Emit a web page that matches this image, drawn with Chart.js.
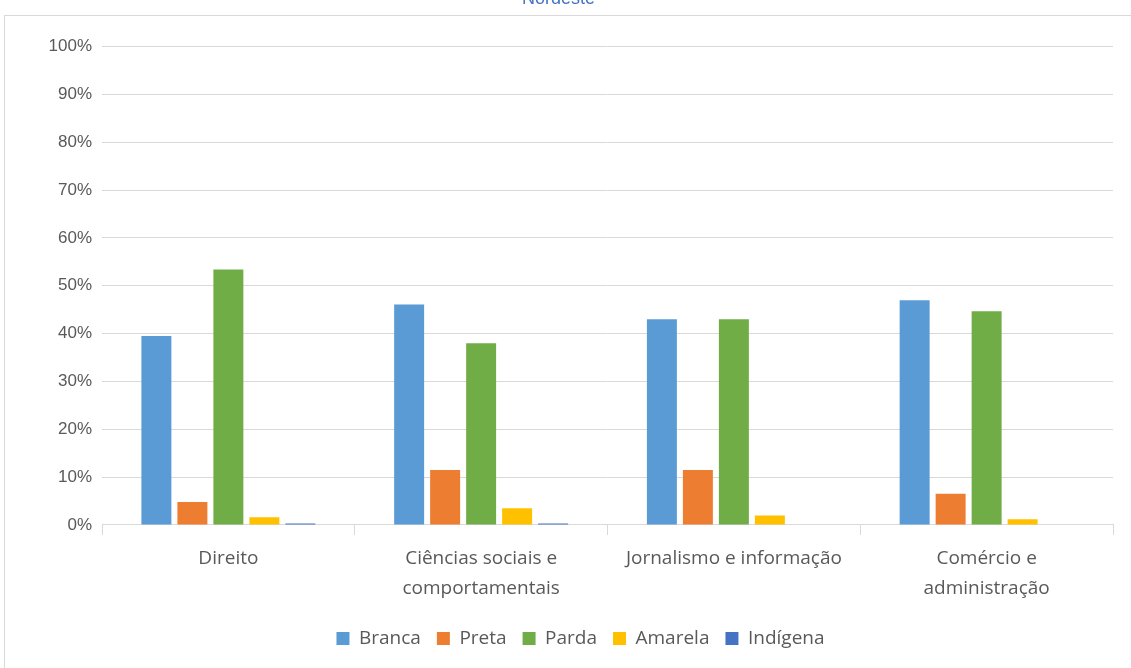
<!DOCTYPE html>
<html>
<head>
<meta charset="utf-8">
<script src="https://cdn.jsdelivr.net/npm/chart.js@4"></script>
<style>
html,body{margin:0;padding:0;background:#fff;overflow:hidden}
canvas{display:block}
</style>
</head>
<body>
<canvas id="c" width="1131" height="668"></canvas>
<script>
const categories=['Direito',['Ciências sociais e','comportamentais'],'Jornalismo e informação',['Comércio e','administração']];
const branca=[39.5,46.1,43.0,47.0];
const preta=[4.8,11.5,11.5,6.5];
const parda=[53.4,38.0,43.0,44.7];
const amarela=[1.6,3.5,2.0,1.2];
const indigena=[0.3,0.3,0,0];
const seriesNames=['Branca','Preta','Parda','Amarela','Indígena'];
const colors=['#5B9BD5','#ED7D31','#70AD47','#FFC000','#4472C4'];
const yTicks=[0,10,20,30,40,50,60,70,80,90,100];

// outer frame + nudge the legend a bit right like the original
const frame={id:'frame',
  beforeDraw(ch){const c=ch.ctx;c.save();c.strokeStyle='#d9d9d9';c.lineWidth=1;c.strokeRect(4.5,15.5,1140,700);c.restore();},
  afterLayout(ch){if(ch.legend){ch.legend.left+=22;ch.legend.right+=22;}}};

const font='"Open Sans", "Noto Sans", sans-serif';
new Chart(document.getElementById('c'),{
  type:'bar',
  data:{labels:categories,datasets:[branca,preta,parda,amarela,indigena].map((d,i)=>({label:seriesNames[i],data:d,backgroundColor:colors[i],borderWidth:0,categoryPercentage:0.712,barPercentage:0.833}))},
  options:{
    responsive:false,animation:false,
    layout:{padding:{left:4,right:18,top:0,bottom:10}},
    plugins:{
      title:{display:true,text:'Nordeste',color:'#4472C4',font:{family:'Arial, "Liberation Sans", sans-serif',size:18,weight:'normal'},padding:{top:-12,bottom:37}},
      legend:{position:'bottom',labels:{boxWidth:13,boxHeight:13,color:'#595959',font:{family:font,size:19},padding:16}},
      tooltip:{enabled:false}
    },
    scales:{
      x:{grid:{offset:true,drawOnChartArea:false,color:'#d9d9d9',tickLength:10},border:{color:'#d9d9d9'},
        ticks:{color:'#595959',font:{family:font,size:19,lineHeight:1.58},maxRotation:0,autoSkip:false,padding:9}},
      y:{min:0,max:100,afterBuildTicks:s=>{s.ticks=yTicks.map(v=>({value:v}))},afterFit:s=>{s.width=98},
        grid:{color:'#d9d9d9',drawTicks:false},border:{display:false},
        ticks:{color:'#595959',font:{family:'Arial, "Liberation Sans", sans-serif',size:17},padding:10,callback:v=>v+'%'}}
    }
  },
  plugins:[frame]
});
</script>
</body>
</html>
